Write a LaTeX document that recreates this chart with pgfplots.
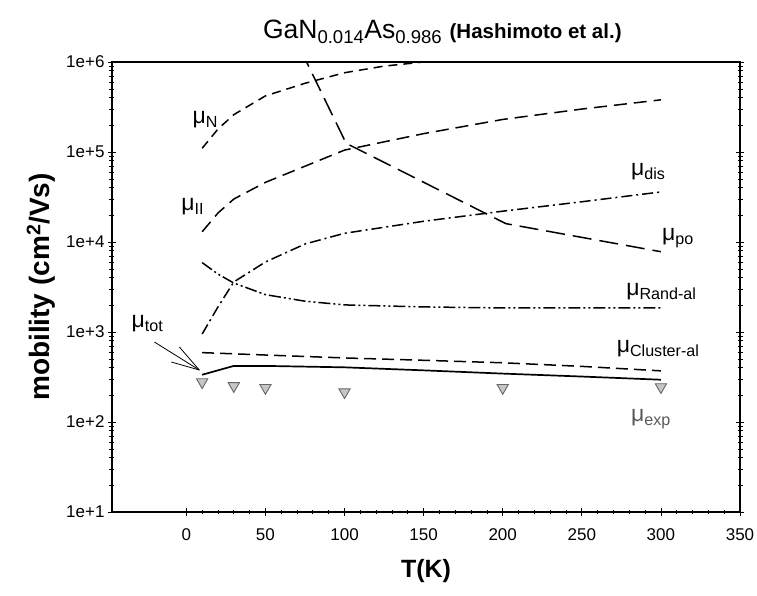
\documentclass[border=0pt]{standalone}
\usepackage{fontspec}
\setmainfont{Liberation Sans}
\usepackage{pgfplots}
\pgfplotsset{compat=1.18}
\newcommand\mulab[1]{{\fontsize{23}{25}\selectfont μ\textsubscript{#1}}}
\begin{document}
\begin{tikzpicture}
\begin{axis}[
  name=ax,
  scale only axis,
  width=628pt, height=450pt,
  ymode=log,
  xmin=-47, xmax=350,
  ymin=1e1, ymax=1e6,
  xtick={0,50,...,350},
  minor x tick num=4,
  xtick pos=bottom,
  ytick={1e1,1e2,1e3,1e4,1e5,1e6},
  yticklabels={1e+1,1e+2,1e+3,1e+4,1e+5,1e+6},
  ytick pos=both,
  yticklabel pos=left,
  tick align=center,
  major tick length=8pt,
  minor tick length=5pt,
  axis line style={line width=1.2pt},
  every tick/.style={black, line width=0.8pt},
  /pgf/number format/assume math mode=true,
  tick label style={font=\fontsize{17}{20}\selectfont},
  xticklabel style={yshift=-9pt},
  ylabel={mobility (cm\textsuperscript{2}/Vs)},
  xlabel={T(K)},
  every axis y label/.style={at={(axis description cs:-0.113,0.5)}, rotate=90, anchor=center, font=\bfseries\fontsize{28}{32}\selectfont},
  every axis x label/.style={at={(axis description cs:0.5,-0.131)}, anchor=center, font=\bfseries\fontsize{25}{30}\selectfont},
  title={GaN\textsubscript{0.014}As\textsubscript{0.986} {\bfseries\fontsize{20.5}{24}\selectfont (Hashimoto et al.)}},
  every axis title/.style={at={(axis description cs:0.526,1.067)}, anchor=center, font=\fontsize{26.5}{30}\selectfont},
  clip mode=individual,
]
% mu_N
\addplot[black, line width=1.5pt, dash pattern=on 9pt off 6pt] coordinates {
 (10,1.1e5) (20,1.8e5) (30,2.6e5) (50,4.2e5) (75,5.8e5) (100,7.6e5) (125,9.0e5) (150,1.0e6) (175,1.1e6)};
% mu_II
\addplot[black, line width=1.5pt, dash pattern=on 13pt off 7pt] coordinates {
 (10,1.3e4) (20,2.1e4) (30,3.0e4) (50,4.6e4) (100,1.05e5) (150,1.6e5) (200,2.3e5) (250,3.0e5) (300,3.8e5)};
% mu_po
\addplot[black, line width=1.5pt, dash pattern=on 19pt off 8pt] coordinates {
 (60,5e6) (76,1.0e6) (101,1.25e5) (202,1.6e4) (300,7.8e3)};
% mu_dis
\addplot[black, line width=1.5pt, dash pattern=on 11pt off 4pt on 2pt off 4pt] coordinates {
 (10,950) (20,1.9e3) (30,3.6e3) (50,6.0e3) (75,9.5e3) (100,1.25e4) (150,1.7e4) (200,2.2e4) (250,2.8e4) (300,3.6e4)};
% mu_Rand-al
\addplot[black, line width=1.5pt, dash pattern=on 12pt off 3pt on 2pt off 3pt on 2pt off 3pt] coordinates {
 (10,5.9e3) (20,4.4e3) (30,3.5e3) (50,2.6e3) (75,2.2e3) (100,2.0e3) (150,1.9e3) (200,1.85e3) (250,1.85e3) (300,1.85e3)};
% mu_Cluster-al
\addplot[black, line width=1.5pt, dash pattern=on 12pt off 6pt] coordinates {
 (10,590) (50,555) (100,515) (150,485) (200,455) (250,415) (300,370)};
% mu_tot
\addplot[black, line width=1.7pt] coordinates {
 (10,335) (30,420) (50,420) (100,405) (150,375) (200,345) (250,320) (300,295)};
% mu_exp
\addplot[only marks, mark=triangle*, mark size=6.5pt, mark options={rotate=180, fill=gray!45, draw=gray!80!black, line width=0.9pt}] coordinates {
 (10,278) (30,252) (50,240) (100,215) (200,240) (300,245)};
% labels
\node[anchor=west, inner sep=0pt] at (axis cs:3.8,2.3e5) {\mulab{N}};
\node[anchor=west, inner sep=0pt] at (axis cs:-3.2,2.45e4) {\mulab{II}};
\node[anchor=west, inner sep=0pt] at (axis cs:281,6.0e4) {\mulab{dis}};
\node[anchor=west, inner sep=0pt] at (axis cs:300.7,1.11e4) {\mulab{po}};
\node[anchor=west, inner sep=0pt] at (axis cs:278,2.78e3) {\mulab{Rand-al}};
\node[anchor=west, inner sep=0pt] at (axis cs:272,647) {\mulab{Cluster-al}};
\node[anchor=west, inner sep=0pt, text=gray!70!black] at (axis cs:281,108) {\mulab{exp}};
\node[anchor=west, inner sep=0pt] at (axis cs:-34.7,1227) {\mulab{tot}};
\draw[black, line width=0.8pt] (axis cs:-20.2,774) -- (axis cs:8.2,378);
\draw[black, line width=0.8pt] (axis cs:-4.4,681) -- (axis cs:8.2,378);
\draw[black, line width=0.8pt] (axis cs:-9.5,464) -- (axis cs:8.2,378);
\end{axis}
\pgfresetboundingbox
\path (ax.south west) ++(-112pt,-83pt) rectangle ++(757pt,595pt);
\end{tikzpicture}
\end{document}
